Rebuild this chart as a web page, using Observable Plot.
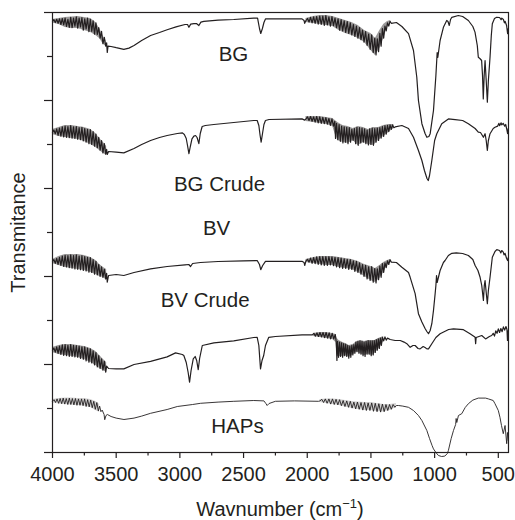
<!DOCTYPE html>
<html><head><meta charset="utf-8">
<script src="https://cdn.jsdelivr.net/npm/d3@7"></script>
<script src="https://cdn.jsdelivr.net/npm/@observablehq/plot@0.6"></script>
<style>
body{margin:0;background:#fff;font-family:"Liberation Sans",Arial,Helvetica,sans-serif;position:relative;width:515px;height:520px;overflow:hidden;}
#xlabel{position:absolute;top:499px;left:45px;width:470px;text-align:center;font-size:20px;line-height:20px;color:#231f20;white-space:nowrap;}
#xlabel sup{font-size:13px;line-height:0;vertical-align:0;position:relative;top:-8px;}
</style></head><body>
<div id="chart"></div>
<div id="xlabel">Wavnumber (cm<sup>−1</sup>)</div>
<script>
// Wavenumber ticks
const xMajor = [4000, 3500, 3000, 2500, 2000, 1500, 1000, 500];
const xMinor = [3750, 3250, 2750, 2250, 1750, 1250, 750];
// Transmittance ticks (arbitrary units, no labels)
const yMajor = [0, 22, 44, 66, 88, 110];
const yMinor = [11, 33, 55, 77, 99];

// Curve labels
const labelNames = ["BG", "BG Crude", "BV", "BV Crude", "HAPs"];
const labelWn = [2579, 2689, 2712, 2802, 2548];
const labelT = [99.6, 67.1, 55.9, 37.9, 6.4];

// Spectra: [wavenumber, transmittance (a.u., stacked)]
const BG = [[4000,107.8],[3989,108.2],[3978,107.5],[3967,108.3],[3956,107.3],[3945,108.4],[3934,107.0],[3923,108.5],[3912,106.9],[3901,108.6],[3890,106.5],[3879,108.3],[3868,106.3],[3857,108.8],[3846,106.2],[3835,108.6],[3824,106.6],[3813,108.9],[3802,106.1],[3791,108.6],[3780,106.4],[3769,108.7],[3758,105.6],[3747,108.4],[3736,105.9],[3725,108.6],[3714,105.2],[3703,108.3],[3692,105.3],[3681,107.9],[3670,104.6],[3659,107.4],[3648,104.5],[3637,106.2],[3626,103.6],[3615,105.3],[3604,102.2],[3593,103.8],[3582,101.6],[3575,102.4],[3570,100],[3564,101.6],
  [3540,101.5],[3500,101.2],[3440,100.8],[3400,101.1],[3360,101.75],[3300,103],[3230,104.25],[3160,105],[3100,105.7],[3030,106.4],[2960,107],[2940,107],[2929,106.3],[2915,107.1],[2890,107.2],[2870,107.25],[2851,106.75],[2835,107.6],[2812,107.8],[2700,108.1],[2577,108.25],[2420,108.6],[2390,108.6],[2375,106],[2365,104.75],[2352,106],[2340,107.5],[2328,108.4],[2041,108.4],[2025,108],[2020,107.3],
  [2010,108],[1998,108.5],[1986,107.6],[1974,108.8],[1962,107.4],[1950,108.9],[1938,107.3],[1926,109],[1914,107.1],[1902,109.1],[1890,107],[1878,109.1],[1866,106.8],[1854,109.2],[1842,106.9],[1830,108.9],[1818,106.6],[1806,109],[1794,106.7],[1782,108.6],[1770,106.2],[1758,108.4],[1746,105.6],[1734,108.2],[1722,105.4],[1710,107.9],[1698,105],[1686,107.7],[1674,104.8],[1662,107.4],[1650,104.4],[1638,107],[1626,104],[1614,106.6],[1602,103.6],[1590,106.2],[1578,103.2],[1566,105.6],[1554,102.6],[1542,105.2],[1530,101.8],[1518,104.6],[1506,100.8],[1494,104.4],[1482,100],[1470,103.6],[1460,99.4],[1450,103.4],[1440,100.2],[1430,104.8],[1420,101.6],[1410,106],[1400,103.6],[1390,106.6],[1380,105.4],[1370,107.4],[1360,106.6],[1350,107.8],[1340,107.3],
  [1300,107.5],[1257,106.5],[1205,104.7],[1166,100.5],[1140,93.8],[1127,88],[1100,82.2],[1075,79.75],[1061,78.8],[1045,79],[1035,79.7],[1009,85.5],[990,94.25],[980,100],[975,98.75],[957,103],[931,106.3],[905,108],[895,107.75],[885,106.75],[875,108.25],[865,108.8],[814,109.25],[780,109],[735,108],[700,106.5],[683,105.1],[665,101.75],[657,98.8],[645,98.5],[631,98],[624,94.25],[618,88.4],[611,94.25],[604,98],[595,93],[586,87.6],[578,93],[565,98.8],[555,104.25],[547,107.2],[530,108.5],[513,108.8],[490,108.75],[478,108.2],[473,108.6],[460,108.25],[452,107.4],[447,107.8],[435,106.75],[427,104.7],[422,106]];
const BGband = [[4000,107.4,108.25],[3950,107,108.5],[3900,106.25,108.75],[3850,106,108.9],[3800,106,109],[3750,105.5,108.75],[3700,105,108.5],[3660,104.25,107.5],[3630,103.5,106],[3600,102,104],[3580,101.5,103],null,
  [2010,107.5,108.5],[1950,107.25,109],[1900,107,109.25],[1850,106.75,109.25],[1800,106.5,109],[1750,105.5,108.5],[1700,104.75,108],[1650,104.25,107.5],[1600,103.5,106.75],[1550,102.5,105.5],[1500,100.5,104.75],[1465,99.25,103.5],[1430,101,105.5],[1400,103.5,107],[1370,106.25,107.75],[1345,107.25,108]];

const BGcrude = [[4000,80.1],[3989,80.6],[3978,79.7],[3967,80.9],[3956,79.3],[3945,81.1],[3934,79.1],[3923,81.4],[3912,78.9],[3901,81.6],[3890,78.8],[3879,81.5],[3868,78.7],[3857,81.7],[3846,78.6],[3835,81.4],[3824,78.5],[3813,81.5],[3802,78.3],[3791,81.2],[3780,78.2],[3769,81.3],[3758,77.9],[3747,81],[3736,77.6],[3725,80.8],[3714,77.2],[3703,80.7],[3692,77],[3681,80.2],[3670,76.6],[3659,79.6],[3648,76.2],[3637,78.8],[3626,75.6],[3615,78],[3604,74.9],[3593,77.2],[3582,74.6],[3575,75.8],[3570,74.5],[3560,75.25],
  [3500,75.1],[3440,74.9],[3360,76],[3300,77],[3230,78],[3160,78.75],[3100,79.25],[3020,79.75],[2980,79.9],[2965,79.5],[2950,78.5],[2940,76.75],[2929,74.7],[2918,76.5],[2905,78.4],[2890,79.1],[2877,79.25],[2865,78.75],[2851,77.2],[2840,79.75],[2825,81.5],[2800,81.75],[2733,82],[2577,82.5],[2420,83],[2393,83],[2380,81.75],[2370,79.25],[2362,77.6],[2350,80],[2340,82],[2328,83],[2300,83.25],[2041,83.4],[2020,83.1],
  [2010,83.4],[1998,83.9],[1986,83],[1974,84],[1962,82.8],[1950,83.9],[1938,82.6],[1926,84],[1914,82.4],[1902,83.9],[1890,82.3],[1878,83.8],[1866,82.2],[1854,83.7],[1842,82.1],[1830,83.5],[1818,81.8],[1806,83.4],[1794,81.6],[1784,82.8],[1778,78.5],[1770,82.3],[1760,78.2],[1750,82],[1740,77.8],[1730,81.6],[1720,77.4],[1710,81.4],[1700,77.6],[1690,81.3],[1680,77.2],[1670,81.2],[1660,77.6],[1650,80.8],[1640,78],[1630,81],[1620,77.2],[1610,81.3],[1600,76.8],[1590,81.2],[1580,77.4],[1570,81.1],[1560,77.6],[1550,80.9],[1540,77.2],[1530,80.6],[1520,76.9],[1510,80.9],[1500,77],[1490,81.1],[1480,76.8],[1470,81],[1460,77.6],[1450,81.1],[1440,78],[1430,81.2],[1420,78.6],[1410,81.5],[1400,79],[1390,81.7],[1380,79.6],[1370,81.8],[1360,80.2],[1350,81.9],[1340,80.8],[1330,81.9],[1320,81.2],
  [1310,81.4],[1257,81.75],[1205,81],[1166,78.8],[1127,75.5],[1100,73],[1080,70.5],[1060,68.5],[1050,68],[1040,69.25],[1022,73],[1000,78],[983,79.7],[944,82.2],[892,83.4],[839,83.2],[780,83],[735,82.2],[682,81],[657,80.1],[640,80],[630,79.5],[617,78.8],[604,79.7],[595,78],[586,75.5],[578,78],[565,79.7],[540,81],[526,81.3],[505,81.6],[495,82.3],[490,81.7],[478,82.4],[473,81.9],[462,82.3],[450,81.6],[442,82],[435,81],[427,79.7],[422,81]];
const BGcrudeBand = [[4000,79.5,80.75],[3950,79,81.25],[3900,78.75,81.75],[3850,78.5,81.75],[3800,78.25,81.5],[3750,77.75,81.25],[3700,77,80.75],[3660,76.25,79.75],[3630,75.5,78.5],[3600,74.75,77.5],[3575,74.25,76.5],null,
  [2010,82.75,84],[1950,82.5,84],[1900,82.25,84],[1850,82,83.75],[1800,81.5,83.5],[1780,79.5,83],[1760,78,82.5],[1720,77.5,81.75],[1680,77.25,81.5],[1640,78,81],[1600,76.75,81.5],[1560,77.5,81.25],[1520,77,80.75],[1480,76.75,81.25],[1440,78,81.25],[1400,79,81.75],[1360,80,82],[1320,81,82]];

const BV = [[4000,47.75],[3989,48.2],[3978,47.3],[3967,48.5],[3956,47],[3945,48.8],[3934,46.8],[3923,49.1],[3912,46.5],[3901,49.3],[3890,46.4],[3879,49.2],[3868,46.2],[3857,49.4],[3846,46.1],[3835,49.2],[3824,45.9],[3813,49.4],[3802,45.8],[3791,49.1],[3780,45.7],[3769,49.2],[3758,45.5],[3747,49],[3736,45.4],[3725,48.8],[3714,45.1],[3703,48.7],[3692,45],[3681,48.2],[3670,44.6],[3659,47.8],[3648,44.4],[3637,47],[3626,44],[3615,46.4],[3604,43.8],[3593,45.8],[3582,43.4],[3575,44.8],[3570,42.6],[3560,44.25],
  [3500,44.5],[3440,44.25],[3360,45],[3230,45.9],[3100,46.5],[2960,46.9],[2930,47],[2916,46.5],[2900,47.25],[2838,47.5],[2700,47.75],[2500,47.9],[2393,48],[2375,47],[2365,45.7],[2350,46.75],[2328,47.8],[2041,47.8],[2025,47.5],[2020,46.75],
  [2010,47.9],[1998,48.3],[1986,47.6],[1974,48.6],[1962,47.3],[1950,48.7],[1938,47.2],[1926,48.9],[1914,47],[1902,49],[1890,46.9],[1878,49],[1866,46.8],[1854,49],[1842,46.8],[1830,49],[1818,46.9],[1806,48.9],[1794,46.7],[1782,48.8],[1770,46.4],[1758,48.7],[1746,46.2],[1734,48.6],[1722,46],[1710,48.4],[1698,46],[1686,48.3],[1674,45.8],[1662,48.2],[1650,45.8],[1638,47.9],[1626,45.3],[1614,47.8],[1602,45],[1590,47.4],[1578,44.6],[1566,47],[1554,44],[1542,46.8],[1530,43.4],[1518,46.4],[1506,43],[1494,46.5],[1482,42.6],[1470,46],[1460,42.4],[1450,45.9],[1440,43.2],[1430,46.6],[1420,43.8],[1410,47.2],[1400,45],[1390,47.4],[1380,46.2],[1370,47.9],[1360,47],[1350,48.2],[1340,47.6],
  [1300,47.5],[1257,46.3],[1205,45],[1192,43.8],[1153,39.7],[1127,34.7],[1100,32.6],[1075,31],[1061,30.25],[1048,29.7],[1035,30.5],[1022,32.2],[1009,35.5],[996,39.7],[990,41.75],[985,44.25],[980,42.5],[957,45.5],[931,47.5],[918,48],[892,49.25],[865,49.8],[830,49.9],[780,49.75],[735,49.25],[700,48.25],[682,46.75],[660,45.5],[643,43.8],[630,41.75],[617,38],[610,41.75],[604,43],[595,40],[586,37.2],[578,40.5],[565,43.8],[547,48.8],[526,50.25],[512,50.7],[490,50.5],[480,49.9],[473,50.5],[461,50.1],[455,49.4],[447,49.8],[435,48.5],[427,48],[422,48.75]];
const BVband = [[4000,47.25,48.25],[3950,46.75,49],[3900,46.25,49.5],[3850,46,49.5],[3800,45.75,49.5],[3750,45.5,49.25],[3700,45,48.75],[3660,44.5,48],[3630,44,47],[3600,43.75,46.25],[3575,43,45.75],null,
  [2010,47.5,48.25],[1950,47.25,48.75],[1900,47,49],[1850,46.75,49],[1800,46.75,49],[1750,46.25,48.75],[1700,46,48.5],[1650,45.75,48.25],[1600,45,47.75],[1550,44,47],[1500,43,46.5],[1465,42.5,46],[1430,43.5,46.75],[1400,45,47.5],[1370,46.75,48],[1345,47.5,48.25]];

const BVcrude = [[4000,25.6],[3989,26.1],[3978,25.1],[3967,26.4],[3956,24.8],[3945,26.6],[3934,24.5],[3923,26.9],[3912,24.3],[3901,27],[3890,24.2],[3879,26.8],[3868,24],[3857,27],[3846,24],[3835,26.8],[3824,23.9],[3813,26.7],[3802,23.8],[3791,26.6],[3780,23.5],[3769,26.4],[3758,23.3],[3747,26.4],[3736,22.9],[3725,26.1],[3714,22.6],[3703,25.9],[3692,22.4],[3681,25.4],[3670,21.9],[3659,25],[3648,21.4],[3637,24.2],[3626,21],[3615,23.4],[3604,20.6],[3593,22.8],[3582,20.1],[3575,21.6],[3560,21],
  [3500,20.9],[3440,20.9],[3360,22],[3230,22.8],[3100,23.9],[3034,24.9],[2981,24.5],[2969,24.25],[2950,22.5],[2935,20],[2924,17.6],[2912,20.5],[2895,23.4],[2880,24],[2868,23],[2856,20.7],[2845,23.5],[2824,26.75],[2733,27.4],[2577,27.9],[2420,28.75],[2393,28.8],[2380,26.75],[2367,20.9],[2355,23],[2342,24.25],[2328,26.75],[2302,28.8],[2250,29],[2041,29.4],
  [1960,29.4],[1948,29.8],[1936,29.1],[1924,29.9],[1912,29],[1900,30],[1888,28.9],[1876,30],[1864,28.7],[1852,30],[1840,28.6],[1828,29.9],[1816,28.4],[1804,29.8],[1792,28.4],[1780,29.5],[1772,27.5],[1767,23],[1762,27.8],[1754,23.8],[1746,27.6],[1738,24],[1730,27.4],[1722,23.8],[1714,27.2],[1706,24.2],[1698,27.1],[1690,24],[1682,26.8],[1674,23.6],[1666,26.6],[1658,23.8],[1650,26.8],[1642,24.4],[1634,27],[1626,24.8],[1618,27.6],[1610,25.2],[1602,27.8],[1594,24.8],[1586,27.9],[1578,24.6],[1570,27.8],[1562,24.2],[1554,27.6],[1546,24],[1538,27.8],[1530,24.6],[1522,28],[1514,24.6],[1506,27.9],[1498,24.2],[1490,27.9],[1482,24.4],[1474,28],[1466,25],[1458,28.2],[1450,25.6],[1442,28.4],[1434,26],[1426,28.6],[1418,26.8],[1410,28.8],[1400,27.9],[1390,28.9],[1380,28.1],[1370,28.6],
  [1349,28.25],[1310,28],[1270,28],[1240,27.6],[1218,27.2],[1192,26.3],[1170,26.75],[1153,26.75],[1130,26],[1114,25.9],[1090,26.5],[1075,26.25],[1061,25.9],[1048,25.9],[1022,27.2],[990,28.75],[957,29.7],[890,30.75],[852,30.9],[774,30.7],[722,29.7],[690,29],[682,28.8],[678,27.2],[674,28.75],[630,29.25],[600,28.4],[570,29],[552,29.25],[540,29.8],[530,29.1],[520,30.4],[510,29.8],[500,30.9],[490,30],[480,31],[470,30.2],[460,31.4],[450,30.6],[440,31.5],[432,30.75],[428,28],[422,30.5]];
const BVcrudeBand = [[4000,25,26.25],[3950,24.5,26.75],[3900,24.25,27],[3850,24,27],[3800,23.75,26.75],[3750,23.25,26.5],[3700,22.5,26],[3660,21.75,25.25],[3630,21,24.25],[3600,20.5,23.25],[3575,20,22.5],null,
  [1950,29,29.75],[1900,28.75,30],[1850,28.5,30],[1800,28.25,29.75],[1775,27.5,29.5],[1765,24,28.5],[1750,24,28],[1720,24,27.5],[1700,24.2,27.25],[1670,23.8,26.75],[1640,24.4,27],[1610,25.2,27.75],[1580,24.6,28],[1550,24.2,27.75],[1520,24.6,28],[1490,24.2,28],[1470,24.75,28],[1440,25.75,28.5],[1420,26.75,28.75],[1400,27.75,29]];

const HAPs = [[4000,12.8],[3988,13.2],[3976,12.5],[3964,13.4],[3952,12.3],[3940,13.5],[3928,12.2],[3916,13.6],[3904,12.1],[3892,13.5],[3880,12],[3868,13.6],[3856,12],[3844,13.5],[3832,11.9],[3820,13.5],[3808,11.8],[3796,13.4],[3784,11.8],[3772,13.4],[3760,11.7],[3748,13.4],[3736,11.5],[3724,13.2],[3712,11.4],[3700,13.1],[3688,11.2],[3676,12.8],[3664,10.8],[3652,12.5],[3640,10.4],[3630,11.6],[3620,10.2],[3610,10.6],
  [3595,9.5],[3590,8.2],[3580,9.25],[3569,9.5],[3540,9],[3500,8.6],[3439,8.25],[3360,8.6],[3300,9.1],[3230,9.8],[3100,10.75],[3020,11.5],[2900,12],[2838,12.3],[2700,12.6],[2577,12.8],[2420,13],[2340,12.9],[2325,12.25],[2315,11.75],[2300,12.25],[2250,12.8],[2100,12.9],[1911,12.8],
  [1900,12.9],[1886,13.3],[1872,12.5],[1858,13.4],[1844,12.3],[1830,13.4],[1816,12.1],[1802,13.4],[1788,12],[1774,13.3],[1760,11.9],[1746,13.2],[1732,11.7],[1718,13],[1704,11.5],[1690,12.9],[1676,11.3],[1662,12.8],[1648,11.1],[1634,12.6],[1620,10.9],[1606,12.6],[1592,10.8],[1578,12.5],[1564,10.6],[1550,12.5],[1536,10.5],[1522,12.4],[1508,10.5],[1494,12.4],[1480,10.3],[1466,12.3],[1452,10.2],[1438,12.2],[1424,10.1],[1410,12.1],[1396,10.2],[1382,12],[1368,10.5],[1354,12],[1340,10.8],[1326,12],[1312,11.3],[1300,11.75],
  [1284,11.75],[1250,11.6],[1205,11.3],[1166,10.5],[1127,9.25],[1100,8],[1061,5.5],[1040,3.5],[1020,1.75],[1009,0.9],[990,0],[970,-0.75],[945,-1],[920,-0.9],[900,-0.25],[892,0.5],[870,3.5],[852,5.5],[835,7],[831,8.5],[826,7.5],[813,9.25],[787,9.7],[760,11.25],[735,12.2],[700,13.1],[657,13.6],[600,13.6],[578,13.4],[540,13],[526,12.2],[500,10.5],[487,8.8],[475,6.75],[461,4.7],[447,6.75],[434,2.2],[428,5],[422,3]];
const HAPsBand = [[4000,12.4,13.25],[3950,12.1,13.5],[3900,12,13.6],[3850,11.9,13.6],[3800,11.75,13.5],[3750,11.6,13.5],[3700,11.25,13.25],[3660,10.5,12.75],[3630,10,12],null,
  [1900,12.5,13.25],[1850,12.25,13.4],[1800,12,13.4],[1750,11.75,13.25],[1700,11.4,13],[1650,11,12.75],[1600,10.75,12.6],[1550,10.5,12.5],[1500,10.5,12.5],[1450,10.25,12.25],[1400,10.1,12],[1350,10.5,12],[1300,11.25,12.25]];

const ink = "#231f20";
const labels = labelNames.map((name, i) => ({name, wn: labelWn[i], t: labelT[i]}));
const spectra = [BG, BGcrude, BV, BVcrude, HAPs];
const bands = [BGband, BGcrudeBand, BVband, BVcrudeBand, HAPsBand];

const marks = [
  Plot.frame({stroke: ink, strokeWidth: 1.2}),
  Plot.axisX({ticks: xMajor, tickSize: 6, tickPadding: 8, tickFormat: d => String(d), label: null, fontSize: 20, stroke: ink, strokeWidth: 1.2}),
  Plot.axisX({ticks: xMinor, tickSize: 3.5, tickFormat: () => "", label: null, stroke: ink, strokeWidth: 1.2}),
  Plot.axisY({ticks: yMajor, tickSize: 8, tickFormat: () => "", label: "Transmitance", labelAnchor: "center", labelArrow: "none", labelOffset: 42, fontSize: 20, stroke: ink, strokeWidth: 1.2}),
  Plot.axisY({ticks: yMinor, tickSize: 5, tickFormat: () => "", label: null, stroke: ink, strokeWidth: 1.2})
];
bands.forEach((b, i) => {
  marks.push(Plot.areaY(b.map(d => d ?? [NaN, NaN, NaN]), {x: d => d[0], y1: d => d[1], y2: d => d[2], fill: ink, fillOpacity: i === 4 ? 0.2 : 0.45}));
});
spectra.forEach((s, i) => {
  marks.push(Plot.line(s, {x: d => d[0], y: d => d[1], stroke: ink, strokeWidth: i === 4 ? 0.9 : 1.2}));
});
marks.push(Plot.text(labels, {x: "wn", y: "t", text: "name", fontSize: 20.5, fill: ink}));

const chart = Plot.plot({
  width: 515, height: 495,
  marginLeft: 52, marginRight: 7, marginTop: 12, marginBottom: 43,
  style: {fontFamily: '"Liberation Sans", Arial, Helvetica, sans-serif', fontSize: "20px", color: ink, background: "#fff"},
  x: {domain: [4000, 420]},
  y: {domain: [0, 110]},
  marks
});
document.getElementById("chart").appendChild(chart);
</script>
</body></html>
